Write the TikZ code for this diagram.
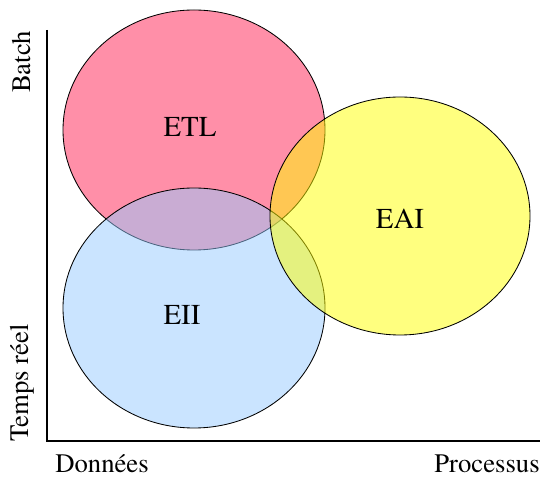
\documentclass[tikz,border=0pt]{standalone}
\usepackage{fontspec}
\setmainfont{texgyretermes-regular.otf}
\usepackage{tikz}

\definecolor{etlpink}{RGB}{255,143,168}
\definecolor{eiiblue}{RGB}{149,201,255}
\definecolor{eaiyellow}{RGB}{255,255,0}

\tikzset{
  zone/.style={draw=black,line width=0.6pt},
  zonelabel/.style={inner sep=0pt,font=\fontsize{20.5}{24}\selectfont},
  axislabel/.style={inner sep=0pt,font=\fontsize{19}{22}\selectfont}
}

\begin{document}
\begin{tikzpicture}[x=0.025cm,y=-0.025cm]
          \useasboundingbox (0,0) rectangle (540,477);
          % axes
          \coordinate (ytop) at (47,30);
          \coordinate (origin) at (47,441);
          \coordinate (xend) at (540,441);
          \draw[line width=2pt] (ytop) -- (origin) -- (xend);
          % the three zones
          \filldraw[zone,fill=etlpink] (194,130) ellipse [x radius=131, y radius=120];
          \filldraw[zone,fill=eiiblue,fill opacity=0.5] (194,308) ellipse [x radius=131, y radius=120];
          \filldraw[zone,fill=eaiyellow,fill opacity=0.5] (400,216) ellipse [x radius=130, y radius=119];
          \node[zonelabel] (etl) at (190,127) {ETL};
          \node[zonelabel] (eii) at (182,315) {EII};
          \node[zonelabel] (eai) at (400,219) {EAI};
          % axis labels
          \node[axislabel,rotate=90] (batch) at (22,62) {Batch};
          \node[axislabel,rotate=90] (tempsreel) at (22,383) {Temps réel};
          \node[axislabel,anchor=base] (donnees) at (102,473) {Données};
          \node[axislabel,anchor=base] (processus) at (487,473) {Processus};
        \end{tikzpicture}
\end{document}
